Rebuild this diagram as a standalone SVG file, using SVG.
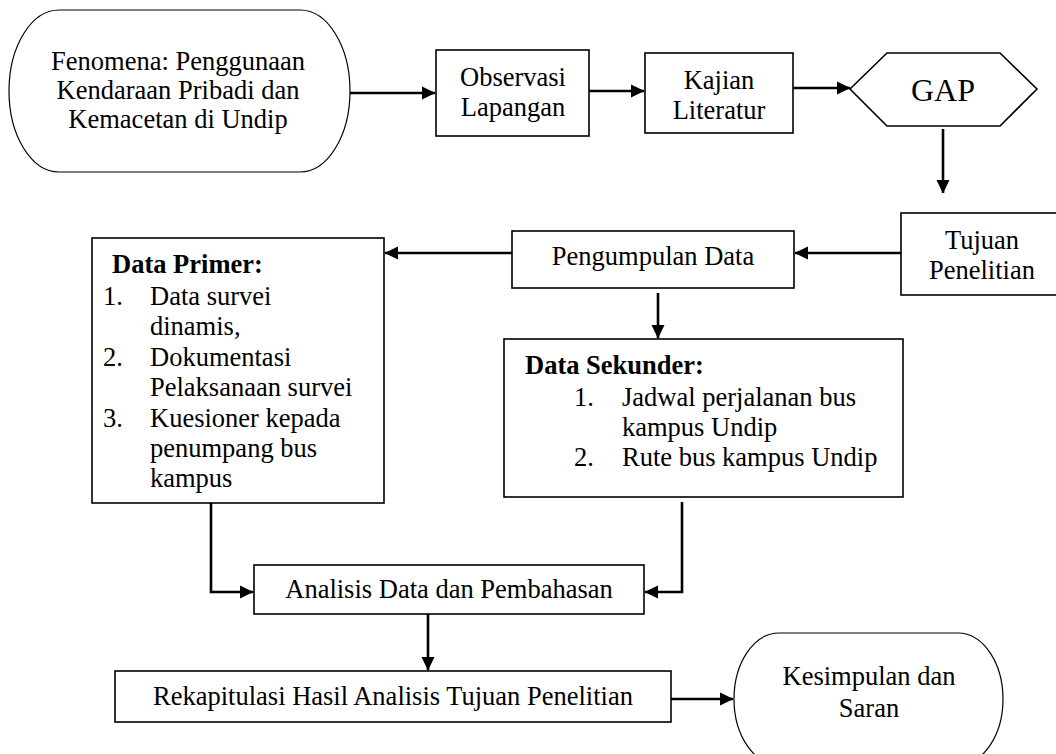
<svg xmlns="http://www.w3.org/2000/svg" width="1056" height="754" viewBox="0 0 1056 754">
<style>
text{font-family:"Liberation Serif","Times New Roman",serif;font-size:26.5px;fill:#000}
.c{text-anchor:middle}
.b{font-weight:bold}
.box{fill:#fff;stroke:#000;stroke-width:1.6}
.term{fill:#fff;stroke:#000;stroke-width:1.2}
.con{fill:none;stroke:#000;stroke-width:2.6;marker-end:url(#ah)}
</style>
<defs>
<marker id="ah" markerWidth="14" markerHeight="14" refX="13" refY="7" orient="auto" markerUnits="userSpaceOnUse">
<path d="M0,0.5 L13.5,7 L0,13.5 z" fill="#000"/>
</marker>
</defs>
<rect width="1056" height="754" fill="#fff"/>

<g id="fenomena">
<rect class="term" x="9" y="10" width="341" height="162" rx="50" ry="81"/>
<text class="c" x="178" y="70">Fenomena: Penggunaan</text>
<text class="c" x="178" y="99">Kendaraan Pribadi dan</text>
<text class="c" x="178" y="128">Kemacetan di Undip</text>
</g>

<g id="observasi">
<rect class="box" x="436" y="50" width="153" height="86"/>
<text class="c" x="513" y="86">Observasi</text>
<text class="c" x="513" y="116">Lapangan</text>
</g>

<g id="kajian">
<rect class="box" x="645" y="53" width="148" height="80"/>
<text class="c" x="719" y="89">Kajian</text>
<text class="c" x="719" y="119">Literatur</text>
</g>

<g id="gap">
<polygon class="box" points="850,89 887,53 1000,53 1037,89 1000,126 887,126"/>
<text class="c" x="943" y="101" style="font-size:32px">GAP</text>
</g>

<g id="tujuan">
<rect class="box" x="901" y="213" width="162" height="82"/>
<text class="c" x="982" y="249">Tujuan</text>
<text class="c" x="982" y="279">Penelitian</text>
</g>

<g id="pengumpulan">
<rect class="box" x="512" y="231" width="282" height="57"/>
<text class="c" x="653" y="265">Pengumpulan Data</text>
</g>

<g id="data-primer">
<rect class="box" x="92" y="238" width="292" height="265"/>
<text class="b" x="112" y="273">Data Primer:</text>
<text x="103" y="305">1.</text><text x="150" y="305">Data survei</text>
<text x="150" y="335">dinamis,</text>
<text x="103" y="366">2.</text><text x="150" y="366">Dokumentasi</text>
<text x="150" y="396">Pelaksanaan survei</text>
<text x="103" y="427">3.</text><text x="150" y="427">Kuesioner kepada</text>
<text x="150" y="457">penumpang bus</text>
<text x="150" y="487">kampus</text>
</g>

<g id="data-sekunder">
<rect class="box" x="504" y="339" width="399" height="158"/>
<text class="b" x="525" y="374">Data Sekunder:</text>
<text x="574" y="406">1.</text><text x="622" y="406">Jadwal perjalanan bus</text>
<text x="622" y="436">kampus Undip</text>
<text x="574" y="466">2.</text><text x="622" y="466">Rute bus kampus Undip</text>
</g>

<g id="analisis">
<rect class="box" x="254" y="565" width="390" height="49"/>
<text class="c" x="449" y="598">Analisis Data dan Pembahasan</text>
</g>

<g id="rekapitulasi">
<rect class="box" x="115" y="671" width="556" height="51"/>
<text class="c" x="393" y="705">Rekapitulasi Hasil Analisis Tujuan Penelitian</text>
</g>

<g id="kesimpulan">
<rect class="term" x="734" y="633" width="269" height="132" rx="45" ry="66"/>
<text class="c" x="869" y="685">Kesimpulan dan</text>
<text class="c" x="869" y="717">Saran</text>
</g>

<g id="connectors">
<path class="con" d="M350,93 H435"/>
<path class="con" d="M589,91 H644"/>
<path class="con" d="M793,88 H850"/>
<path class="con" d="M943,129 V193"/>
<path class="con" d="M901,253 H795"/>
<path class="con" d="M512,253 H385"/>
<path class="con" d="M658,293 V338"/>
<path class="con" d="M211,503 V592 H253"/>
<path class="con" d="M682,502 V592 H645"/>
<path class="con" d="M428,614 V670"/>
<path class="con" d="M671,699 H733"/>
</g>
</svg>
